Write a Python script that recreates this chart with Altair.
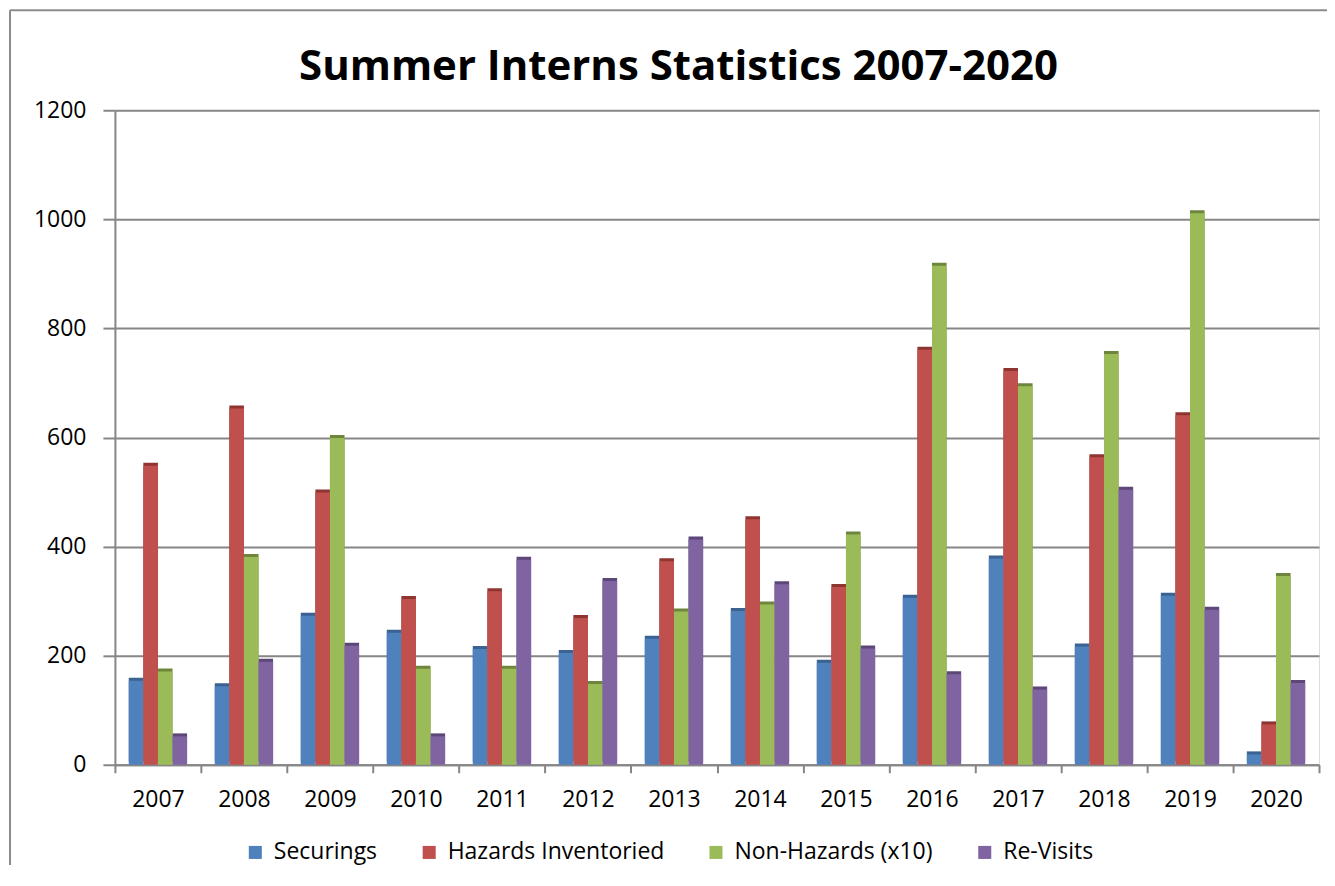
import altair as alt
import pandas as pd

title_text = "Summer Interns Statistics 2007-2020"
years = [str(y) for y in range(2007, 2021)]
series = ["Securings", "Hazards Inventoried", "Non-Hazards (x10)", "Re-Visits"]
securings = [154, 144, 273, 242, 212, 205, 231, 282, 187, 306, 378, 217, 310, 19]
hazards = [548, 653, 499, 304, 318, 269, 373, 450, 326, 761, 722, 564, 641, 74]
nonhazards = [171, 381, 599, 176, 176, 148, 281, 294, 422, 915, 694, 753, 1011, 346]
revisits = [52, 189, 218, 52, 376, 337, 413, 331, 213, 166, 138, 504, 284, 150]
y_ticks = [0, 200, 400, 600, 800, 1000, 1200]

colors = ["#4F81BD", "#C0504D", "#9BBB59", "#8064A2"]
dark = ["#3A6293", "#8E3532", "#6E863C", "#5C4778"]

rows = []
for s, vals, d in zip(series, [securings, hazards, nonhazards, revisits], dark):
    for yr, v in zip(years, vals):
        rows.append({"year": yr, "series": s, "value": v, "dark": d})
df = pd.DataFrame(rows)

FONT = "Open Sans"
GRID = "#868686"

x_enc = alt.X(
    "year:N",
    sort=years,
    scale=alt.Scale(paddingInner=0, paddingOuter=0),
    axis=alt.Axis(
        title=None, labelAngle=0, tickBand="extent", labelFont=FONT,
        labelFontSize=23, labelColor="#000000", labelPadding=16,
        domainColor=GRID, domainWidth=2, tickColor=GRID, tickWidth=2,
        tickSize=8, grid=False,
    ),
)
xo_enc = alt.XOffset(
    "series:N", sort=series,
    scale=alt.Scale(domain=series, paddingOuter=0.95, paddingInner=0),
)
y_enc = alt.Y(
    "value:Q",
    scale=alt.Scale(domain=[0, 1200], nice=False),
    axis=alt.Axis(
        title=None, values=y_ticks, format="d", labelFont=FONT,
        labelFontSize=23, labelColor="#000000", labelPadding=17,
        domainColor=GRID, domainWidth=2, tickColor=GRID, tickWidth=2,
        tickSize=12, grid=True, gridColor=GRID, gridWidth=2,
    ),
)

base = alt.Chart(df)

shadow = base.mark_bar(xOffset=5, yOffset=-3).encode(
    x=x_enc, xOffset=xo_enc, y=y_enc,
    fill=alt.Fill("dark:N", scale=None),
)

main = base.mark_bar().encode(
    x=x_enc, xOffset=xo_enc, y=y_enc,
    color=alt.Color(
        "series:N",
        scale=alt.Scale(domain=series, range=colors),
        legend=alt.Legend(
            title=None, orient="none", direction="horizontal",
            legendX=129, legendY=731, symbolType="square",
            symbolSize=170, labelFont=FONT, labelFontSize=23,
            labelColor="#000000", columnPadding=40, labelOffset=7,
            symbolStrokeWidth=0, labelLimit=0,
        ),
    ),
)

frame_df = pd.DataFrame({"a": [0]})
left_border = alt.Chart(frame_df).mark_rule(color="#8C8C8C", strokeWidth=2).encode(
    x=alt.value(-105), y=alt.value(-100), y2=alt.value(780)
)
top_border = alt.Chart(frame_df).mark_rule(color="#8C8C8C", strokeWidth=2).encode(
    x=alt.value(-105), x2=alt.value(1215), y=alt.value(-100)
)
title = alt.Chart(frame_df).mark_text(
    font=FONT, fontSize=42, fontWeight="bold", color="#000000",
    align="center", baseline="alphabetic",
).encode(x=alt.value(564), y=alt.value(-30), text=alt.value(title_text))

chart = (
    alt.layer(left_border, top_border, title, shadow, main)
    .properties(
        width=1205,
        height=655,
        padding={"left": 107, "top": 102, "right": 8, "bottom": 100},
        autosize=alt.AutoSizeParams(type="none"),
    )
    .configure_view(stroke=None)
    .configure(background="#ffffff")
)

chart.save("out.html", embed_options={"renderer": "svg", "actions": False})
